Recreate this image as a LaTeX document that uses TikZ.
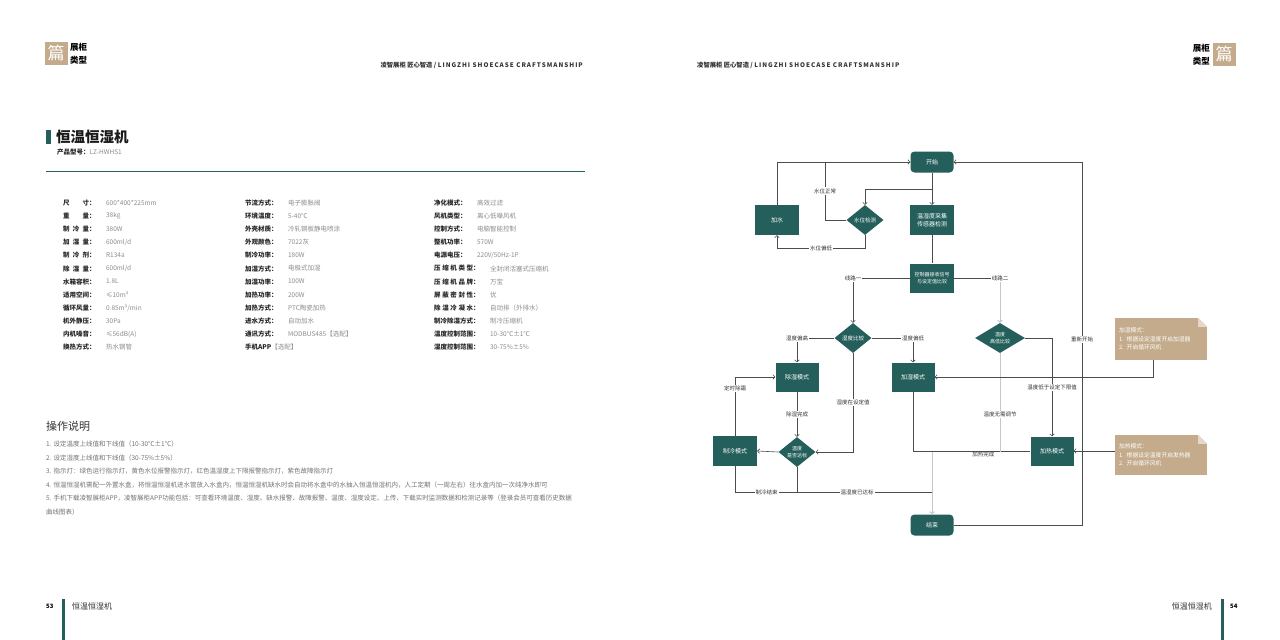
\documentclass[tikz,border=0pt]{standalone}
\usepackage{fontspec}
\setmainfont{Noto Sans CJK SC}
\usetikzlibrary{shapes.geometric,arrows.meta,positioning}
\definecolor{lzgreen}{HTML}{245F5B}
\definecolor{lzsand}{HTML}{C3AB8C}
\definecolor{lzfold}{HTML}{E4D8C8}
\begin{document}
\begin{tikzpicture}[x=1pt,y=-1pt,>={Straight Barb[length=2pt,width=4.5pt]},
  box/.style={fill=lzgreen,text=white,minimum width=44pt,minimum height=30pt,inner sep=1pt,align=center,font=\fontsize{6}{7.5}\selectfont},
  term/.style={box,rounded corners=4pt,minimum width=43pt,minimum height=21pt},
  dec/.style={box,diamond,shape aspect=1.25,minimum width=37pt,minimum height=30pt,inner sep=0pt,font=\fontsize{5.5}{6.5}\selectfont},
  flow/.style={draw=black!70,line width=0.6pt},
  soft/.style={draw=black!22,line width=1pt},
  lbl/.style={fill=white,inner sep=1pt,text=black!80,font=\fontsize{5.5}{6.5}\selectfont},
  note/.style={fill=lzsand,text=white,text width=84pt,minimum width=92pt,inner sep=4pt,align=left,font=\fontsize{5.8}{8.5}\selectfont},
  speckey/.style={anchor=west,inner sep=0pt,text=black!85,font=\fontsize{6.5}{7}\selectfont\bfseries},
  specval/.style={inner sep=0pt,text=black!45,font=\fontsize{6.5}{7}\selectfont},
  oper/.style={anchor=west,inner sep=0pt,text=black!55,font=\fontsize{6.5}{7}\selectfont}]
  \useasboundingbox[fill=white] (0,0) rectangle (1280,640);

  % page heads
  \node[fill=lzsand,text=white,minimum size=23pt,inner sep=0pt,font=\fontsize{17}{17}\selectfont] (badgeL) at (56,53) {篇};
  \node[anchor=west,inner sep=0pt,font=\fontsize{8.5}{8.5}\selectfont\bfseries] (typeL1) at (70,47) {展柜};
  \node[anchor=west,inner sep=0pt,font=\fontsize{8.5}{8.5}\selectfont\bfseries] (typeL2) at (70,60) {类型};
  \node[fill=lzsand,text=white,minimum size=23pt,inner sep=0pt,font=\fontsize{17}{17}\selectfont] (badgeR) at (1224,54) {篇};
  \node[anchor=east,inner sep=0pt,font=\fontsize{8.5}{8.5}\selectfont\bfseries] (typeR1) at (1210,48) {展柜};
  \node[anchor=east,inner sep=0pt,font=\fontsize{8.5}{8.5}\selectfont\bfseries] (typeR2) at (1210,61) {类型};
  \node[anchor=east,inner sep=0pt,text=black!80,font=\fontsize{6.3}{6.3}\selectfont\bfseries] (headL) at (583,65)
    {凌智展柜 匠心智造 / {\addfontfeature{LetterSpace=16}LINGZHI SHOECASE CRAFTSMANSHIP}};
  \node[anchor=west,inner sep=0pt,text=black!80,font=\fontsize{6.3}{6.3}\selectfont\bfseries] (headR) at (697,65)
    {凌智展柜 匠心智造 / {\addfontfeature{LetterSpace=16}LINGZHI SHOECASE CRAFTSMANSHIP}};

  % title
  \fill[lzgreen] (46,130) rectangle (51,144);
  \node[anchor=west,inner sep=0pt,text=black!90,font=\fontsize{14.5}{16}\selectfont\bfseries] (title) at (56,137) {恒温恒湿机};
  \node[speckey] (model) at (57,152) {产品型号：{\mdseries\color{black!45}LZ-HWHS1}};
  \draw[lzgreen,line width=0.8pt] (46,171) -- (585,171);

  % spec table
  \foreach \k/\v [count=\i] in {{尺\hfill 寸}/{600*400*225mm}, {重\hfill 量}/38kg, {制\hfill 冷\hfill 量}/380W,
      {加\hfill 湿\hfill 量}/{600ml/d}, {制\hfill 冷\hfill 剂}/R134a, {除\hfill 湿\hfill 量}/{600ml/d},
      水箱容积/1.8L, 适用空间/{≤10m³}, 循环风量/{0.85m³/min}, 机外静压/30Pa, 内机噪音/{≤56dB(A)}, 换热方式/热水钢管} {
    \node[speckey] (a\i) at (63,{203+13.1*(\i-1)}) {\makebox[4em][s]{\k}：};
    \node[specval,right=10pt of a\i] (av\i) {\v};
  }
  \foreach \k/\v [count=\i] in {节流方式/电子膨胀阀, 环境温度/{5-40℃}, 外壳材质/冷轧钢板静电喷涂, 外观颜色/7022灰,
      制冷功率/180W, 加湿方式/电极式加湿, 加湿功率/100W, 加热功率/200W, 加热方式/PTC陶瓷加热,
      进水方式/自动加水, 通讯方式/MODBUS485【选配】} {
    \node[speckey] (b\i) at (245,{203+13.1*(\i-1)}) {\makebox[4em][s]{\k}：};
    \node[specval,right=10pt of b\i] (bv\i) {\v};
  }
  \node[speckey] (b12) at (245,{203+13.1*11}) {手机APP{\mdseries\color{black!45}【选配】}};
  \foreach \w/\k/\v [count=\i] in {4/净化模式/高效过滤, 4/风机类型/离心低噪风机, 4/控制方式/电脑智能控制,
      4/整机功率/570W, 4/电源电压/{220V/50Hz-1P},
      6/{压\hfill 缩\hfill 机\hfill 类\hfill 型}/全封闭活塞式压缩机, 6/{压\hfill 缩\hfill 机\hfill 品\hfill 牌}/万宝,
      6/{屏\hfill 蔽\hfill 密\hfill 封\hfill 性}/优, 6/{除\hfill 湿\hfill 冷\hfill 凝\hfill 水}/自动排（外排水）,
      6/制冷除湿方式/制冷压缩机, 6/温度控制范围/{10-30℃±1℃}, 6/湿度控制范围/{30-75\%±5\%}} {
    \node[speckey] (c\i) at (434,{203+13.1*(\i-1)}) {\makebox[\w em][s]{\k}：};
    \node[specval,right=10pt of c\i] (cv\i) {\v};
  }

  % operation notes
  \node[anchor=west,inner sep=0pt,text=black!80,font=\fontsize{11}{12}\selectfont] (ophead) at (46,426) {操作说明};
  \foreach \t [count=\i] in {{1. 设定温度上线值和下线值（10-30℃±1℃）},
      {2. 设定湿度上线值和下线值（30-75\%±5\%）},
      {3. 指示灯：绿色运行指示灯，黄色水位报警指示灯，红色温湿度上下限报警指示灯，紫色故障指示灯},
      {4. 恒温恒湿机需配一外置水盒，将恒温恒湿机进水管放入水盒内，恒温恒湿机缺水时会自动将水盒中的水抽入恒温恒湿机内，人工定期（一周左右）往水盒内加一次纯净水即可},
      {5. 手机下载凌智展柜APP，凌智展柜APP功能包括：可查看环境温度、湿度、缺水报警、故障报警、温度、湿度设定、上传、下载实时监测数据和检测记录等（登录会员可查看历史数据},
      {曲线图表）}} {
    \node[oper] (op\i) at (46,{444+13.6*(\i-1)}) {\t};
  }

  % flow chart
  \node[term] (start) at (932,162) {开始};
  \node[box] (water) at (777,220) {加水};
  \node[dec] (wcheck) at (865,220) {水位检测};
  \node[box] (sense) at (932,220) {温湿度采集\\传感器检测};
  \node[box,minimum height=29pt,font=\fontsize{5}{6.5}\selectfont] (ctrl) at (932,278) {控制器接收信号\\与设定值比较};
  \node[dec] (hcheck) at (853,338) {湿度比较};
  \node[dec,minimum width=50pt,font=\fontsize{5}{6.5}\selectfont] (tcheck) at (1000,338) {温度\\高低比较};
  \node[box,minimum width=43pt,minimum height=29pt] (dehum) at (797,377) {除湿模式};
  \node[box,minimum width=43pt,minimum height=29pt] (humid) at (913,377) {加湿模式};
  \node[dec,font=\fontsize{5}{6.5}\selectfont] (tcheck2) at (797,452) {温度\\是否达标};
  \node[box] (cool) at (735,451) {制冷模式};
  \node[box,minimum width=43pt,minimum height=29pt] (heat) at (1052,451) {加热模式};
  \node[term] (stop) at (932,525) {结束};
  \node[note,minimum height=42pt] (note1) at (1161,339) {加湿模式：\\1. 根据设定湿度开启加湿器\\2. 开启循环风机};
  \node[note,minimum height=40pt] (note2) at (1161,455) {加热模式：\\1. 根据设定温度开启发热器\\2. 开启循环风机};
  \foreach \n in {note1,note2} {
    \fill[white] ([xshift=-9pt]\n.north east) -- (\n.north east) -- ([yshift=-9pt]\n.north east) -- cycle;
    \fill[lzfold] ([xshift=-9pt]\n.north east) -- ([xshift=-9pt,yshift=-9pt]\n.north east) -- ([yshift=-9pt]\n.north east) -- cycle;
  }

  \coordinate (wok) at (825,162);
  \coordinate (wlow) at (865,248);
  \coordinate (split) at (932,189);
  \coordinate (r2) at (1000,278);
  \coordinate (done) at (932,492);
  \coordinate (hdone) at (932,452);
  \coordinate (back) at (1082,162);

  \draw[flow,->] (water.north) |- (start.west);
  \draw[flow] (wcheck.west) -| node[lbl,pos=0.75] {水位正常} (wok);
  \draw[flow,->] (wcheck.south) -- (wlow) -| node[lbl,pos=0.25] {水位偏低} (water.south);
  \draw[flow,->] (start.south) -- (sense.north);
  \draw[flow,->] (split) -| (wcheck.north);
  \draw[flow] (sense.south) -- (ctrl.north);
  \draw[flow,->] (ctrl.west) -| node[lbl] {线路一} (hcheck.north);
  \draw[flow] (ctrl.east) -- (r2);
  \draw[soft,->] (r2) -- (tcheck.north);
  \node[lbl] (line2) at (r2) {线路二};
  \draw[flow,->] (hcheck.west) -| node[lbl] {湿度偏高} (dehum.north);
  \draw[flow,->] (hcheck.east) -| node[lbl] {湿度偏低} (humid.north);
  \draw[flow,->] (hcheck.south) |- node[lbl,pos=0.25] {湿度在设定值} (tcheck2.east);
  \draw[flow,->] (dehum.south) -- node[lbl] {除湿完成} (tcheck2.north);
  \draw[flow,->] (tcheck2.west) -- (cool.east);
  \draw[flow,->] (cool.north) |- node[lbl,pos=0.4] {定时除霜} (dehum.west);
  \draw[flow] (cool.south) |- node[lbl,pos=0.58] {制冷结束} node[lbl,pos=0.81] {温湿度已达标} (done);
  \draw[flow] (tcheck2.south) -- (tcheck2.south |- done);
  \draw[flow] (humid.south) |- node[lbl,fill=none,below,pos=0.8] {加热完成} (heat.west);
  \draw[soft,->] (hdone) -- (stop.north);
  \draw[flow,->] (tcheck.east) -| node[lbl,pos=0.75] {温度低于设定下限值} (heat.north);
  \draw[soft] (tcheck.south) -- node[lbl,pos=0.62] {温度无需调节} (tcheck.south |- hdone);
  \draw[flow,->] (stop.east) -| node[lbl,pos=0.756] {重新开始} (back) -- (start.east);
  \draw[flow,->] ([xshift=-8pt]note1.south) |- (humid.east);
  \draw[flow,->] (heat.east -| note2.west) -- (heat.east);

  % page feet
  \fill[lzgreen] (62,599) rectangle (64.5,640);
  \node[anchor=west,inner sep=0pt,font=\fontsize{6}{7}\selectfont\bfseries] (pgL) at (46,606) {53};
  \node[anchor=west,inner sep=0pt,text=black!80,font=\fontsize{8}{9}\selectfont] (footL) at (72,606) {恒温恒湿机};
  \fill[lzgreen] (1221,599) rectangle (1223.5,640);
  \node[anchor=west,inner sep=0pt,font=\fontsize{6}{7}\selectfont\bfseries] (pgR) at (1230,606) {54};
  \node[anchor=east,inner sep=0pt,text=black!80,font=\fontsize{8}{9}\selectfont] (footR) at (1212,606) {恒温恒湿机};
\end{tikzpicture}
\end{document}
